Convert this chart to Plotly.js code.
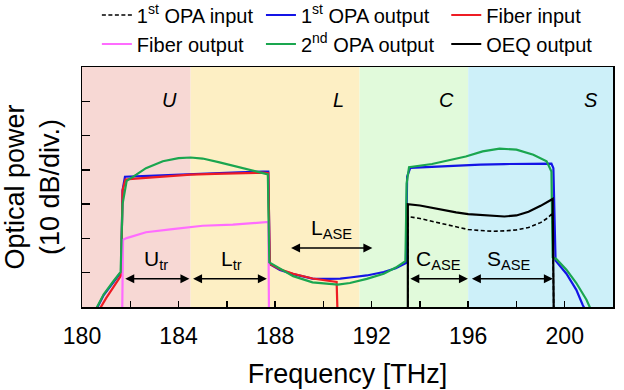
<!DOCTYPE html>
<html>
<head>
<meta charset="utf-8">
<script src="https://cdn.plot.ly/plotly-3.0.1.min.js"></script>
<style>html,body{margin:0;padding:0;background:#fff;}#chart{width:624px;height:390px;}</style>
</head>
<body>
<div id="chart"></div>
<script>
// ---- Spectral bands ----
const bandNames = ['U', 'L', 'C', 'S'];
const bandStart = [180, 184.5, 191.5, 196];
const bandEnd = [184.5, 191.5, 196, 202];
const bandColors = ['#f7d8d4', '#fdefc4', '#e1fadb', '#cdf0f9'];

// ---- 1st OPA input (dashed black) ----
const opaInFreq = [193.5, 193.5, 194.0, 194.5, 195.0, 195.5, 196.0, 196.5, 197.0, 197.5, 198.0, 198.5, 199.0, 199.3, 199.5, 199.55];
const opaInPow  = [-5, 26.4, 25.8, 25.0, 24.1, 23.3, 22.6, 22.3, 22.1, 22.2, 22.5, 23.2, 24.6, 26.0, 27.4, -5];

// ---- 1st OPA output (blue) ----
const opaOutFreq = [180.5, 180.9, 181.3, 181.62, 181.68, 181.78, 182.5, 183.5, 184.5, 185.5, 186.5, 187.5, 187.72, 187.78, 188.2, 188.75, 189.55, 190.1, 190.7, 191.1, 191.8, 192.5, 193.0, 193.42, 193.47, 193.6, 194.5, 195.5, 196.5, 197.5, 198.5, 199.45, 199.53, 199.62, 200.07, 200.48, 200.75, 200.95];
const opaOutPow  = [-2, 3.5, 7.2, 10.2, 34, 38.0, 38.2, 38.5, 38.9, 39.0, 39.3, 39.5, 39.5, 12.5, 10.8, 9.6, 8.3, 8.2, 8.3, 8.6, 9.2, 10.2, 11.3, 12.8, 38, 40.6, 40.9, 41.3, 41.5, 41.7, 41.8, 41.8, 40.5, 13.5, 9.7, 5.0, 0.5, -2];

// ---- Fiber input (red) ----
const fibInFreq = [180.7, 181.0, 181.35, 181.62, 181.68, 181.8, 182.5, 183.5, 184.5, 185.5, 186.5, 187.5, 187.72, 187.78, 188.2, 188.75, 189.55, 190.1, 190.55, 190.6];
const fibInPow  = [-1, 2.6, 6.3, 9.2, 34, 37.2, 37.6, 38.1, 38.6, 38.8, 39.0, 39.2, 39.0, 12.6, 11.0, 9.7, 8.3, 7.8, 7.3, -5];

// ---- Fiber output (pink) ----
const fibOutFreq = [181.66, 181.7, 181.85, 182.65, 183.75, 185.0, 186.25, 187.55, 187.72, 187.75];
const fibOutPow  = [-5, 19.6, 20.1, 21.8, 22.7, 23.7, 24.0, 24.7, 24.8, -5];

// ---- 2nd OPA output (green) ----
const opa2Freq = [180.55, 180.9, 181.3, 181.6, 181.68, 181.85, 182.25, 182.65, 183.35, 184.0, 184.5, 185.0, 185.7, 186.5, 187.35, 187.7, 187.76, 188.2, 188.75, 189.55, 190.1, 190.6, 191.1, 191.8, 192.5, 193.0, 193.4, 193.45, 193.55, 194.5, 195.2, 195.9, 196.6, 197.3, 198.0, 198.7, 199.25, 199.45, 199.5, 199.65, 200.07, 200.48, 200.9, 201.1];
const opa2Pow  = [-1, 3.7, 7.5, 10.2, 30, 36.8, 38.6, 40.5, 42.5, 43.4, 43.6, 43.3, 42.2, 40.8, 39.5, 38.7, 13.0, 11.2, 9.0, 7.2, 6.8, 6.5, 7.0, 8.2, 9.7, 11.5, 13.4, 36, 40.8, 41.7, 42.8, 43.9, 45.4, 46.2, 45.9, 44.4, 42.5, 39.5, 14.5, 14.0, 10.9, 7.0, 2.1, -1];

// ---- OEQ output (black) ----
const oeqFreq = [193.5, 193.5, 194.0, 194.5, 195.0, 195.5, 196.0, 196.5, 197.0, 197.5, 198.0, 198.5, 199.0, 199.3, 199.5, 199.55];
const oeqPow  = [-5, 30.0, 29.6, 28.9, 28.2, 27.6, 27.1, 26.8, 26.5, 26.4, 26.7, 27.8, 29.5, 30.6, 31.5, -5];

const FONT = 'Liberation Sans, Arial, sans-serif';

function tr(name, x, y, color, legend, rank, dash, width) {
  return {
    type: 'scatter', mode: 'lines', name: name, x: x, y: y,
    line: {color: color, width: width || 2.2, dash: dash || 'solid'},
    legend: legend, legendrank: rank, legendgroup: name,
    hoverinfo: 'skip'
  };
}

const traces = [
  tr('1<sup>st</sup> OPA output', opaOutFreq, opaOutPow, '#1414e6', 'legend2', 1),
  tr('Fiber input', fibInFreq, fibInPow, '#ee1c24', 'legend3', 1),
  tr('Fiber output', fibOutFreq, fibOutPow, '#ff6cff', 'legend', 2),
  tr('2<sup>nd</sup> OPA output', opa2Freq, opa2Pow, '#1aa64f', 'legend2', 2),
  tr('OEQ output', oeqFreq, oeqPow, '#000000', 'legend3', 2),
  tr('1<sup>st</sup> OPA input', opaInFreq, opaInPow, '#000000', 'legend', 1, '4px,2.5px', 1.6)
];

const shapes = bandNames.map((n, i) => ({
  type: 'rect', xref: 'x', yref: 'paper', x0: bandStart[i], x1: bandEnd[i], y0: 0, y1: 1,
  fillcolor: bandColors[i], line: {width: 0}, layer: 'below'
}));

const bandLabelX = [183.63, 190.63, 195.1, 201.1];
const annotations = bandNames.map((n, i) => ({
  x: bandLabelX[i], y: 0.918, xref: 'x', yref: 'paper', text: '<i>' + n + '</i>',
  showarrow: false, font: {family: FONT, size: 20, color: '#000'}
}));

function dbl(x0, x1, y) {
  return {x: x1, y: y, ax: x0, ay: y, xref: 'x', yref: 'y', axref: 'x', ayref: 'y',
    text: '', showarrow: true, arrowhead: 2, startarrowhead: 2, arrowside: 'end+start',
    arrowsize: 1.2, arrowwidth: 1.5, arrowcolor: '#000', standoff: 0, startstandoff: 0};
}
annotations.push(dbl(181.73, 184.45, 8.25));
annotations.push(dbl(184.54, 187.66, 8.25));
annotations.push(dbl(188.6, 192.03, 17.2));
annotations.push(dbl(193.54, 195.99, 8.25));
annotations.push(dbl(196.09, 199.51, 8.25));

function lab(x, y, t) {
  return {x: x, y: y, xref: 'x', yref: 'y', text: t, showarrow: false,
    font: {family: FONT, size: 21, color: '#000'}};
}
annotations.push(lab(183.06, 13.8, 'U<sub>tr</sub>'));
annotations.push(lab(186.18, 13.8, 'L<sub>tr</sub>'));
annotations.push(lab(190.34, 22.8, 'L<sub>ASE</sub>'));
annotations.push(lab(194.77, 13.8, 'C<sub>ASE</sub>'));
annotations.push(lab(197.7, 13.8, 'S<sub>ASE</sub>'));

const legBase = {orientation: 'v', xanchor: 'left', yanchor: 'top', y: 1.298,
  bgcolor: 'rgba(0,0,0,0)', borderwidth: 0, font: {family: FONT, size: 20, color: '#000'},
  traceorder: 'grouped', tracegroupgap: 0, itemwidth: 30};

const layout = {
  width: 624, height: 390,
  margin: {l: 82, r: 11, t: 67, b: 83, autoexpand: false},
  paper_bgcolor: '#fff', plot_bgcolor: 'rgba(0,0,0,0)',
  font: {family: FONT, size: 20, color: '#000'},
  showlegend: true,
  legend: Object.assign({}, legBase, {x: 0.028}),
  legend2: Object.assign({}, legBase, {x: 0.337}),
  legend3: Object.assign({}, legBase, {x: 0.686}),
  xaxis: {
    range: [180, 202], dtick: 4, tick0: 180, ticks: 'inside', ticklen: 6, tickwidth: 1.5, tickcolor: '#000',
    minor: {dtick: 2, ticks: 'inside', ticklen: 6, tickwidth: 1.5, tickcolor: '#000'},
    showline: true, linecolor: '#000', linewidth: 1.5, mirror: true, showgrid: false, zeroline: false,
    tickfont: {family: FONT, size: 23, color: '#000'}, ticklabelstandoff: 8,
    title: {text: 'Frequency [THz]', font: {family: FONT, size: 27, color: '#000'}, standoff: 16}
  },
  yaxis: {
    range: [0, 70], dtick: 10, ticks: 'inside', ticklen: 8, tickwidth: 1.5, tickcolor: '#000',
    showticklabels: false, showline: true, linecolor: '#000', linewidth: 1.5, mirror: true,
    showgrid: false, zeroline: false,
    title: {text: 'Optical power<br>(10 dB/div.)', font: {family: FONT, size: 27, color: '#000'}, standoff: 14}
  },
  shapes: shapes,
  annotations: annotations
};

Plotly.newPlot('chart', traces, layout, {staticPlot: true, displayModeBar: false});
</script>
</body>
</html>
